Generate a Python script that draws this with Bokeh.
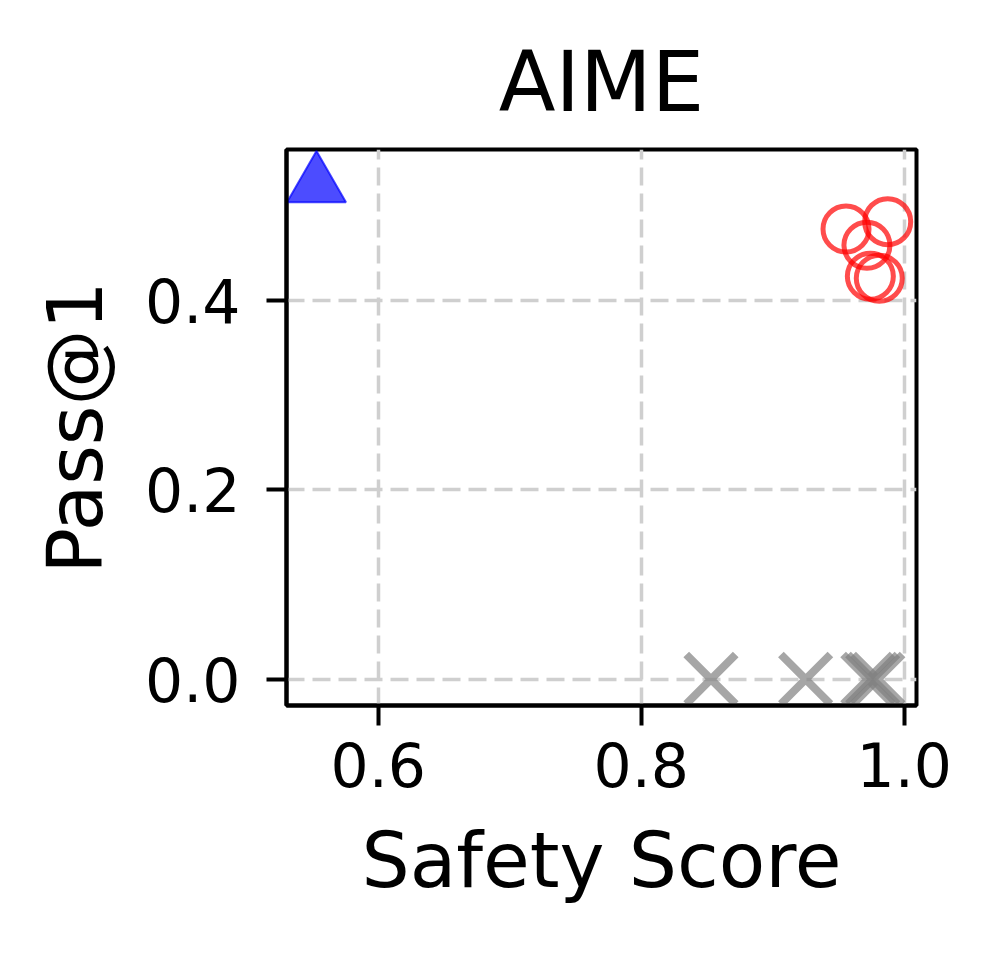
from bokeh.plotting import figure
from bokeh.models import FixedTicker, Range1d, PrintfTickFormatter
from bokeh.embed import file_html
from bokeh.resources import INLINE

# ---- data ----
title_text = "AIME"
x_label = "Safety Score"
y_label = "Pass@1"

base_x = [0.553]
base_y = [0.522]

aligned_x = [0.9557, 0.9874, 0.9716, 0.9742, 0.9810]
aligned_y = [0.4758, 0.4835, 0.4585, 0.4258, 0.4237]

failed_x = [0.853, 0.925, 0.9723, 0.9760, 0.9799]
failed_y = [0.0, 0.0, 0.0, 0.0, 0.0]

x_ticks = [0.6, 0.8, 1.0]
y_ticks = [0.0, 0.2, 0.4]

FONT = "DejaVu Sans"

p = figure(
    frame_width=630, frame_height=556,
    min_border_left=286, min_border_top=149,
    min_border_right=50, min_border_bottom=200,
    x_range=Range1d(0.5302, 1.0093), y_range=Range1d(-0.0277, 0.5597),
    output_backend="svg", toolbar_location=None,
    title=title_text,
)

p.title.align = "center"
p.title.text_font = FONT
p.title.text_font_size = "83px"
p.title.text_font_style = "normal"
p.title.text_color = "black"
p.title.standoff = 37

p.outline_line_color = "black"
p.outline_line_width = 4
p.outline_line_alpha = 1.0

for ax in (p.xaxis, p.yaxis):
    ax.axis_line_color = "black"
    ax.axis_line_width = 4
    ax.major_tick_line_width = 4
    ax.major_tick_line_color = "black"
    ax.major_tick_out = 20
    ax.major_tick_in = 0
    ax.minor_tick_line_color = None
    ax.major_label_text_font = FONT
    ax.major_label_text_font_size = "60px"
    ax.major_label_text_color = "black"
    ax.axis_label_text_font = FONT
    ax.axis_label_text_font_size = "76px"
    ax.axis_label_text_font_style = "normal"
    ax.axis_label_text_color = "black"
    ax.formatter = PrintfTickFormatter(format="%.1f")

p.xaxis.ticker = FixedTicker(ticks=x_ticks)
p.yaxis.ticker = FixedTicker(ticks=y_ticks)
p.xaxis.axis_label = x_label
p.yaxis.axis_label = y_label
p.xaxis.major_label_standoff = 16
p.yaxis.major_label_standoff = 26
p.xaxis.axis_label_standoff = 26
p.yaxis.axis_label_standoff = 22

for g in (p.xgrid, p.ygrid):
    g.grid_line_color = "#cfcfcf"
    g.grid_line_width = 3.5
    g.grid_line_dash = "18 8"
p.xgrid.ticker = FixedTicker(ticks=x_ticks)
p.ygrid.ticker = FixedTicker(ticks=y_ticks)

p.scatter(failed_x, failed_y, marker="x", size=70, line_color="gray",
          line_alpha=0.7, line_width=8)
p.scatter(aligned_x, aligned_y, marker="circle", size=46, fill_color=None,
          line_color="red", line_alpha=0.7, line_width=5)
p.scatter(base_x, base_y, marker="triangle", size=59, fill_color="blue",
          fill_alpha=0.7, line_color="blue", line_alpha=0.7, line_width=2)

open("out.html", "w").write(file_html(p, INLINE))
